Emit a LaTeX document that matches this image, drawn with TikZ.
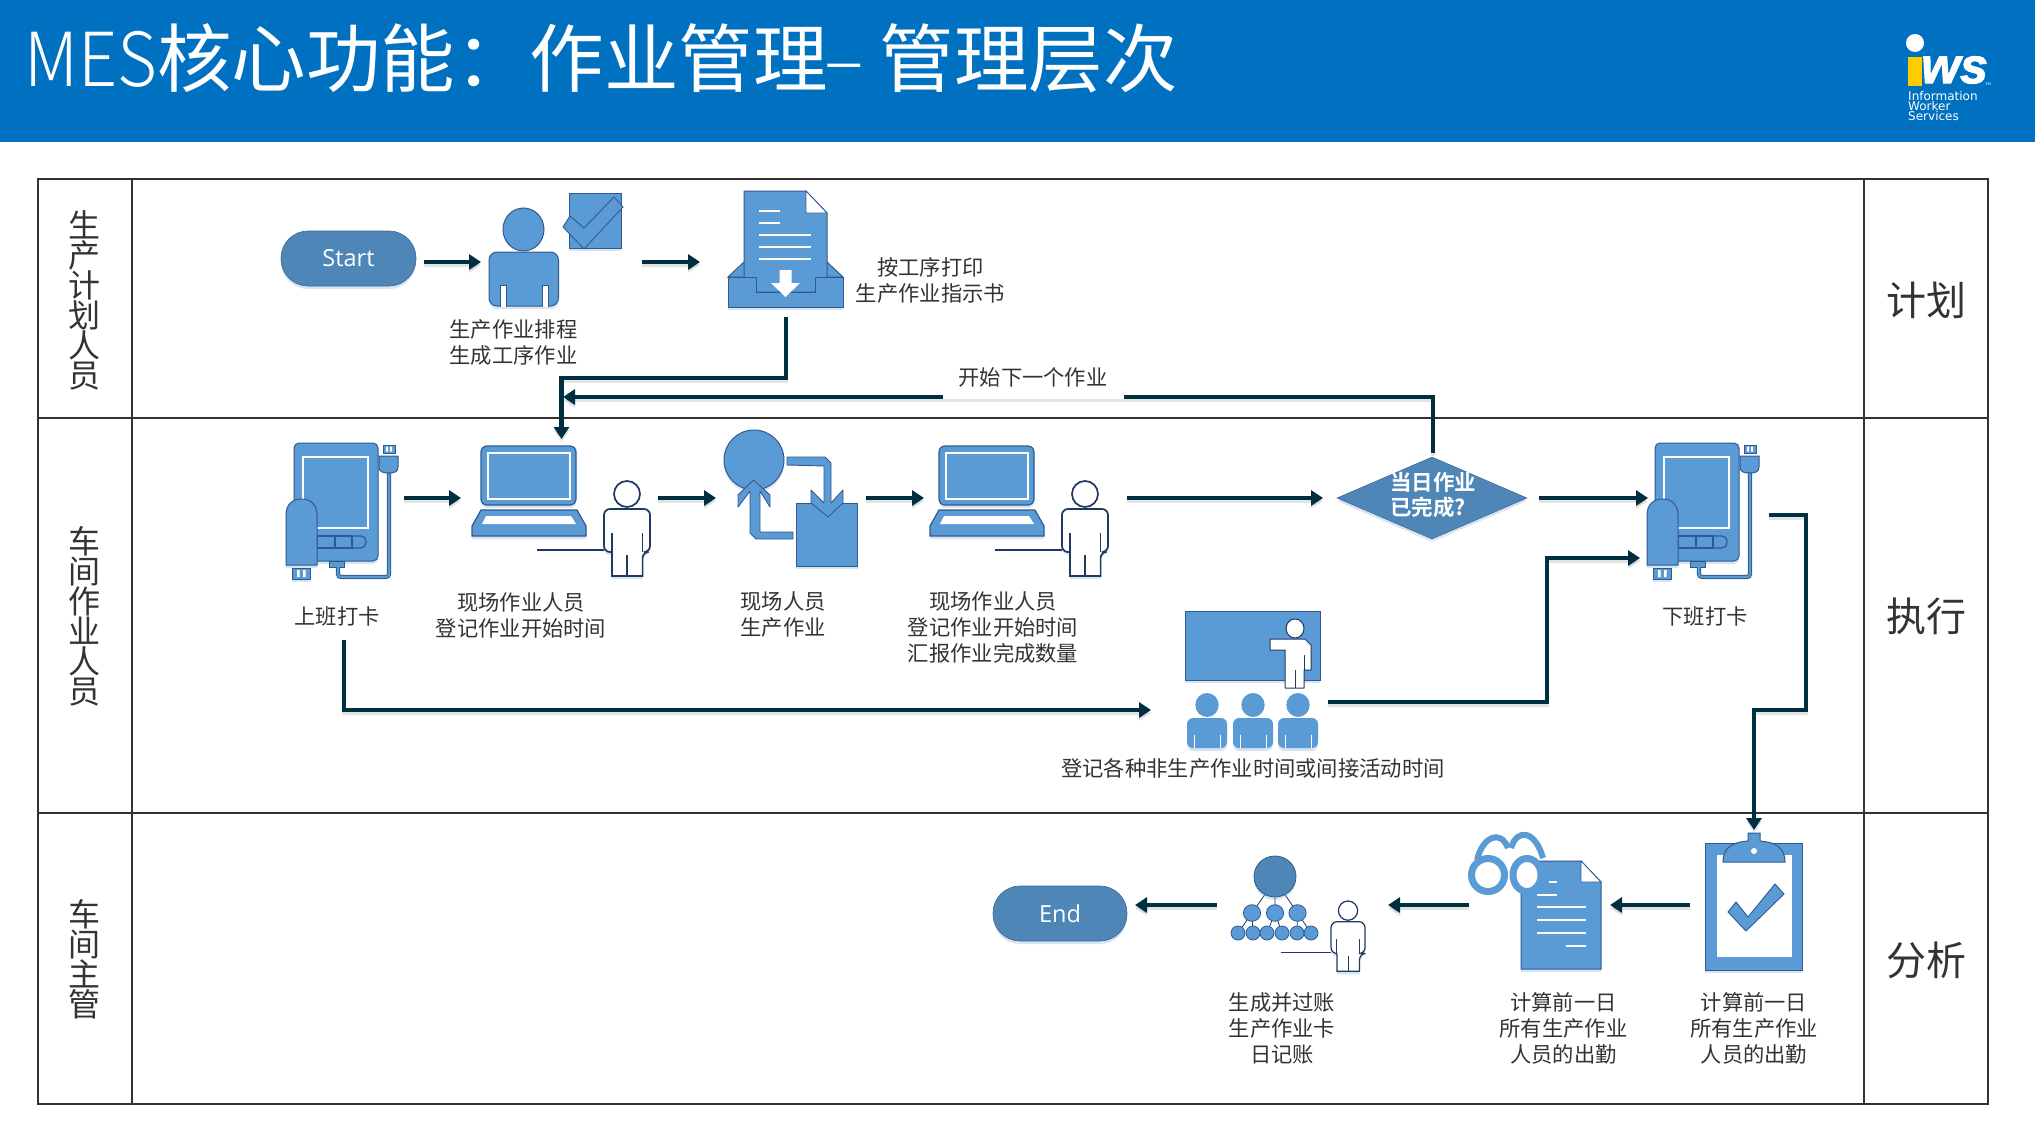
\documentclass[tikz,border=0pt]{standalone}
\usepackage{fontspec}
\setmainfont{Noto Sans CJK SC}[BoldFont=* Bold]
\newfontfamily\thin{Noto Sans CJK SC Light}
\newfontfamily\ofont{Open Sans}
\newfontfamily\lfont{Liberation Sans}
\newfontfamily\dfont{DejaVu Sans}
\usetikzlibrary{arrows.meta,shadows,shapes.geometric,calc}
\definecolor{hdr}{HTML}{0070C0}
\definecolor{ic}{HTML}{5B9BD5}
\definecolor{icd}{HTML}{4F86B8}
\definecolor{ln}{HTML}{2F5A8F}
\definecolor{navy}{HTML}{1F3864}
\definecolor{cn}{HTML}{00303F}
\definecolor{tx}{HTML}{333333}
\definecolor{shc}{HTML}{7FA6CF}
\definecolor{iwsy}{HTML}{FFCC00}
\tikzset{
  iconbox/.style={rectangle,inner sep=0pt,outer sep=0pt,draw=none},
  sh/.style={drop shadow={shadow xshift=0pt,shadow yshift=-3pt,opacity=.3,fill=shc}},
  ico/.style={fill=ic,draw=ln,line width=1pt},
  wl/.style={draw=white,line width=2.5pt},
  conn/.style={draw=cn,line width=4.3pt,line join=miter,-{Triangle[length=12pt,width=15pt]},
     preaction={draw=gray,opacity=.22,line width=4pt,transform canvas={yshift=-3pt},-{Triangle[length=12pt,width=15pt]}}},
  lbl/.style={text=tx,align=center,inner sep=0pt,font=\fontsize{21.3}{26}\selectfont},
  vlbl/.style={text=tx,align=center,inner sep=0pt,font=\fontsize{32}{30}\selectfont},
  rlbl/.style={text=tx,inner sep=0pt,font=\fontsize{40}{40}\selectfont},
  pill/.style={fill=icd,draw=ln!70!icd,line width=.6pt,rounded corners=27pt,text=white,sh,inner sep=0pt,
     minimum height=55pt,font=\ofont\fontsize{23.5}{26}\selectfont},
}
\newcommand\ibox[5]{\node[iconbox,minimum width={(#4-#2)*1pt},minimum height={(#5-#3)*1pt}] (#1) at ({(#2+#4)/2},{(#3+#5)/2}) {};}
\newcommand\PersonO[3]{\begin{scope}[shift={(#1,#2)},scale=#3]
  \draw[navy,line width=#3*1.4pt] (-67,69) -- (0,69);
  \draw[navy,fill=white,line width=#3*1.7pt,sh,rounded corners=6pt] (0,71) -- (0,28) -- (46,28) -- (46,71) -- (38.6,71) {[sharp corners] -- (38.6,95) -- (8,95) -- (8,71)} -- cycle;
  \draw[navy,line width=#3*1.4pt] (8,52) -- (8,71) (38.6,52) -- (38.6,71) (23,74) -- (23,95);
  \draw[navy,fill=white,line width=#3*1.7pt] (23,13) ellipse [x radius=13,y radius=13];
\end{scope}}
\newcommand\Laptop[2]{\begin{scope}[shift={(#1,#2)}]
  \draw[ico,sh,line width=1.2pt,rounded corners=6pt] (9,59) -- (9,0) -- (104,0) -- (104,59) -- cycle;
  \draw[white,line width=1.3pt] (16,7) rectangle (98,53);
  \draw[ico,sh,line width=1.2pt] (9,64) -- (105,64) -- (114,80) -- (114,90) -- (0,90) -- (0,80) -- cycle;
  \fill[white] (14,70) -- (99,70) -- (104,78) -- (10,78) -- cycle;
\end{scope}}
\newcommand\Device[2]{\begin{scope}[shift={(#1,#2)}]
  \draw[ico,sh,rounded corners=5pt] (8,118) -- (8,0) -- (92,0) -- (92,118) -- cycle;
  \draw[white,line width=1.2pt] (17,14) rectangle (82,85);
  \draw[ln,line width=1.2pt] (31,93) rectangle (49,105) (49,93) rectangle (66,105);
  \draw[ln,line width=1.2pt,rounded corners=5pt] (66,93) -- (80,93) -- (80,105) -- (66,105);
  \draw[ico] (43,118) rectangle (58,124);
  \draw[ln,line width=4.2pt,rounded corners=3pt] (103,30) -- (103,134) -- (52,134) -- (52,124);
  \draw[ic,line width=2.2pt,rounded corners=3pt] (103,30) -- (103,134) -- (52,134) -- (52,124);
  \draw[ico] (93,13) -- (112,13) -- (112,24) .. controls (112,29) and (108,30) .. (103,30) .. controls (97,30) and (93,29) .. (93,24) -- cycle;
  \draw[ico,line width=.8pt] (97,2) rectangle (109,10);
  \fill[white] (100,3.5) rectangle (102,8.5) (104,3.5) rectangle (106,8.5);
  \draw[ico,sh] (0,122) -- (0,72) .. controls (0,61) and (7,56) .. (15.5,56) .. controls (24,56) and (31,61) .. (31,72) -- (31,122) -- cycle;
  \draw[ico,line width=.8pt,sh] (6,125) rectangle (24,136);
  \fill[white] (11,127) rectangle (13.5,134) (17,127) rectangle (19.5,134);
\end{scope}}
\newcommand\PersonA[1]{\begin{scope}[shift={(#1,693)}]
  \fill[ic,rounded corners=6pt,sh] (0,55) -- (0,25) -- (40,25) -- (40,55) -- cycle;
  \draw[white,line width=.8pt] (7,42) -- (7,55) (33,42) -- (33,55);
  \fill[ic] (20,12) ellipse [x radius=11.7,y radius=12];
\end{scope}}
\begin{document}
\begin{tikzpicture}[x=1pt,y=-1pt]
\useasboundingbox (0,0) rectangle (2035,1145);
\fill[white] (0,0) rectangle (2035,1145);
% header
\fill[hdr] (0,0) rectangle (2035,142);
\node[anchor=west,text=white,inner sep=0pt,font=\fontsize{74.5}{80}\selectfont] (title) at (24,58) {{\thin\scalebox{.92}[1]{MES}}核心功能：作业管理\hspace{-3pt}{\thin –}\hspace{-1pt} 管理层次};
% logo
\fill[white] (1915,43) circle [radius=9];
\fill[iwsy] (1908,57) rectangle (1922,86);
\node[anchor=west,text=white,inner sep=0pt,font=\lfont\bfseries\itshape\addfontfeature{FakeBold=2}\fontsize{50}{50}\selectfont] (logows) at (1921,70) {ws};
\node[anchor=west,text=white,inner sep=0pt,font=\lfont\fontsize{4}{4}\selectfont] (logotm) at (1985,84) {TM};
\node[anchor=north west,text=white,inner sep=0pt,align=left,font=\dfont\fontsize{12}{10.2}\selectfont] (logotx) at (1908,91) {Information\\Worker\\Services};
% table
\draw[tx,line width=2.4pt] (38,179) rectangle (1988,1104);
\draw[tx,line width=2.4pt] (132,179) -- (132,1104) (1864,179) -- (1864,1104) (38,418) -- (1988,418) (38,813) -- (1988,813);
\node[vlbl] (lane1) at (84,300) {生\\产\\计\\划\\人\\员};
\node[vlbl] (lane2) at (84,616) {车\\间\\作\\业\\人\\员};
\node[vlbl] (lane3) at (84,959) {车\\间\\主\\管};
\node[rlbl] (phase1) at (1926,300) {计划};
\node[rlbl] (phase2) at (1926,616) {执行};
\node[rlbl] (phase3) at (1926,960) {分析};
% invisible icon extents used as connector ends
\ibox{bstart}{281}{232}{424}{292}
\ibox{bplan}{481}{232}{642}{292}
\ibox{bdoc}{700}{207}{872}{317}
\ibox{bdev}{286}{440}{404}{556}
\ibox{blap}{461}{440}{658}{556}
\ibox{bcyc}{716}{440}{866}{556}
\ibox{blapb}{924}{440}{1127}{556}
\ibox{bdia}{1323}{453}{1541}{543}
\ibox{bdevb}{1648}{440}{1769}{556}
\ibox{bclip}{1690}{850}{1810}{960}
\ibox{bpaper}{1469}{850}{1610}{960}
\ibox{borg}{1217}{850}{1388}{960}
\ibox{bend}{993}{850}{1135}{960}
\coordinate (lapin) at (561.5,439);
\coordinate (jA) at (561.5,378);
\coordinate (retend) at (563,397);
\coordinate (retup) at (1433,453);
\coordinate (clockin) at (344,640);
\coordinate (meetin) at (1151,710);
\coordinate (meetout) at (1328,702);
\coordinate (jB) at (1547,702);
\coordinate (devin) at (1640,558);
\coordinate (devout) at (1769,515);
\coordinate (jC) at (1806,710);
\coordinate (jD) at (1754,710);
\coordinate (clipin) at (1754,830);
% start and end
\node[pill,minimum width=135pt] (start) at (348.5,258.5) {Start};
\node[pill,minimum width=134pt] (end) at (1060,913.5) {End};
% planner
\draw[ico,sh,rounded corners=8pt] (489,306) -- (489,252) -- (558.5,252) -- (558.5,306) -- cycle;
\draw[fill=white,draw=ln,line width=.8pt] (500,307) -- (500,285) -- (506,285) -- (506,307);
\draw[fill=white,draw=ln,line width=.8pt] (542,307) -- (542,285) -- (548,285) -- (548,307);
\draw[ico] (523.5,229.5) ellipse [x radius=20.5,y radius=21.5];
\draw[ico,sh] (569,193) rectangle (621,248);
\draw[ico,line width=.9pt] (563,227) -- (570,216) -- (584,228) -- (614,197) -- (623,207) -- (584,249) -- cycle;
% document in tray
\draw[ico,line width=1pt] (728,277) -- (744,262) -- (827,262) -- (843,277) -- cycle;
\draw[ico] (744,292) -- (744,191) -- (806,191) -- (827,213) -- (827,292) -- cycle;
\draw[fill=white,draw=ln,line width=.8pt] (806,191) -- (827,213) -- (806,213) -- cycle;
\draw[wl] (759,211) -- (780,211) (759,223) -- (780,223) (759,235) -- (811,235) (759,247) -- (811,247) (759,259) -- (811,259);
\draw[ico,sh] (728,277) -- (756.5,277) -- (756.5,292) -- (815,292) -- (815,277) -- (843,277) -- (843,307) -- (728,307) -- cycle;
\fill[white] (779.5,270) -- (791.5,270) -- (791.5,283) -- (800,283) -- (785.5,297) -- (771,283) -- (779.5,283) -- cycle;
% row 2 icons
\Device{286}{443}
\Laptop{472}{446}
\PersonO{604}{481}{1}
\draw[ico,sh] (754,460) ellipse [x radius=30,y radius=30];
\draw[ico,sh] (796,503) rectangle (857.5,566);
\draw[ico,line width=.9pt,line join=round] (787,457) -- (825,457) -- (831,463) -- (831,503) -- (843,490) -- (843,503) -- (828,517) -- (811,503) -- (811,490) -- (824,503) -- (824,466) -- (787,465) -- cycle;
\draw[ico,line width=.9pt,line join=round] (793,539) -- (756,539) -- (750,533) -- (750,491) -- (738,507) -- (738,495) -- (753.5,480) -- (770,495) -- (770,507) -- (760,491) -- (760,532) -- (793,532) -- cycle;
\Laptop{930}{446}
\PersonO{1062}{481}{1}
\node[diamond,fill=icd,draw=ln!60!icd,line width=.6pt,aspect=2.32,minimum width=190pt,minimum height=82pt,inner sep=0pt,sh] (dia) at (1432,498) {};
\node[text=white,inner sep=0pt,align=left,font=\bfseries\fontsize{21.5}{25}\selectfont] (diatx) at (1433,495) {当日作业\\已完成?};
\Device{1647}{443}
% meeting
\draw[ico,sh] (1185,611) rectangle (1320,680);
\draw[fill=white,draw=navy,line width=1pt] (1295,628.5) ellipse [x radius=9,y radius=9.5];
\draw[fill=white,draw=navy,line width=1pt,line join=round] (1270,639) -- (1305,639) -- (1311,645) -- (1311,670) -- (1304,670) -- (1304,688) -- (1285,688) -- (1285,650) -- (1270,650) -- cycle;
\draw[navy,line width=.8pt] (1295,670) -- (1295,688) (1304,655) -- (1304,670);
\PersonA{1187}
\PersonA{1233}
\PersonA{1278}
% row 3 icons
\draw[ico,sh] (1705,843) rectangle (1802,970);
\fill[white] (1717,855) rectangle (1792,957);
\draw[ico] (1723,862) .. controls (1723,846) and (1735,842) .. (1748,841) -- (1748,833) -- (1760,833) -- (1760,841) .. controls (1773,842) and (1785,846) .. (1785,862) -- cycle;
\fill[white] (1754,851) circle [radius=3];
\draw[ico,line width=.9pt] (1728,912) -- (1736,902) -- (1748,917) -- (1775,884) -- (1784,894) -- (1746,931) -- cycle;
% paper and glasses
\draw[ico,sh] (1521,969) -- (1521,861) -- (1581,861) -- (1601,882) -- (1601,969) -- cycle;
\draw[fill=white,draw=ln,line width=.8pt] (1581,861) -- (1601,882) -- (1581,882) -- cycle;
\draw[wl] (1549,882) -- (1557,882) (1537,895) -- (1557,895) (1537,907) -- (1586,907) (1537,920) -- (1586,920) (1537,933) -- (1586,933) (1566,946) -- (1586,946);
\draw[ic,line width=6pt] (1477,860) .. controls (1482,838) and (1500,828) .. (1508,848);
\draw[ic,line width=6pt] (1511,848) .. controls (1517,828) and (1535,830) .. (1543,858);
\draw[ic,fill=white,line width=7pt] (1488,875) ellipse [x radius=16.5,y radius=16.5];
\draw[ic,fill=white,line width=7pt] (1527,875) ellipse [x radius=14,y radius=16.5];
% org chart
\draw[navy,line width=.8pt] (1275,880) -- (1252,913) (1275,880) -- (1275,913) (1275,880) -- (1297.5,913)
  (1252,913) -- (1238,933) (1252,913) -- (1253,933) (1275,913) -- (1267,933) (1275,913) -- (1282,933) (1297.5,913) -- (1297,933) (1297.5,913) -- (1311,933);
\draw[fill=icd,draw=ln,line width=.8pt,sh] (1275,876.5) ellipse [x radius=21,y radius=20.5];
\foreach \cx in {1252,1275,1297.5} \draw[ico,line width=.8pt] (\cx,913) ellipse [x radius=8.6,y radius=8.3];
\foreach \cx in {1238,1253,1267,1282,1297,1311} \draw[ico,line width=.8pt] (\cx,933) ellipse [x radius=7,y radius=7];
\PersonO{1331}{901}{.74}
% labels
\node[lbl] (t1) at (513.5,342.5) {生产作业排程\\生成工序作业};
\node[lbl] (t2) at (930.5,280.5) {按工序打印\\生产作业指示书};
\node[lbl] (t3) at (337,616) {上班打卡};
\node[lbl] (t4) at (521,615) {现场作业人员\\登记作业开始时间};
\node[lbl] (t5) at (783,615) {现场人员\\生产作业};
\node[lbl] (t6) at (993,627.5) {现场作业人员\\登记作业开始时间\\汇报作业完成数量};
\node[lbl] (t7) at (1705,616.5) {下班打卡};
\node[lbl] (t8) at (1253,768.5) {登记各种非生产作业时间或间接活动时间};
\node[lbl] (t9) at (1282,1028.5) {生成并过账\\生产作业卡\\日记账};
\node[lbl] (t10) at (1563.5,1028.5) {计算前一日\\所有生产作业\\人员的出勤};
\node[lbl] (t11) at (1754,1028.5) {计算前一日\\所有生产作业\\人员的出勤};
% connectors
\draw[conn] (bstart.east) -- (bplan.west);
\draw[conn] (bplan.east) -- (bdoc.west);
\draw[conn] (bdoc.south) |- (jA) -- (lapin);
\draw[conn] (retup) |- (retend);
\draw[conn] (bdev.east) -- (blap.west);
\draw[conn] (blap.east) -- (bcyc.west);
\draw[conn] (bcyc.east) -- (blapb.west);
\draw[conn] (blapb.east) -- (bdia.west);
\draw[conn,shorten <=-2pt] (bdia.east) -- (bdevb.west);
\draw[conn] (clockin) |- (meetin);
\draw[conn] (meetout) -- (jB) |- (devin);
\draw[conn] (devout) -| (jC) -- (jD) -- (clipin);
\draw[conn] (bclip.west) -- (bpaper.east);
\draw[conn] (bpaper.west) -- (borg.east);
\draw[conn] (borg.west) -- (bend.east);
\node[lbl,fill=white,minimum width=181pt,minimum height=40pt,text depth=3pt] (next) at (1033,378.5) {开始下一个作业};
\end{tikzpicture}
\end{document}
